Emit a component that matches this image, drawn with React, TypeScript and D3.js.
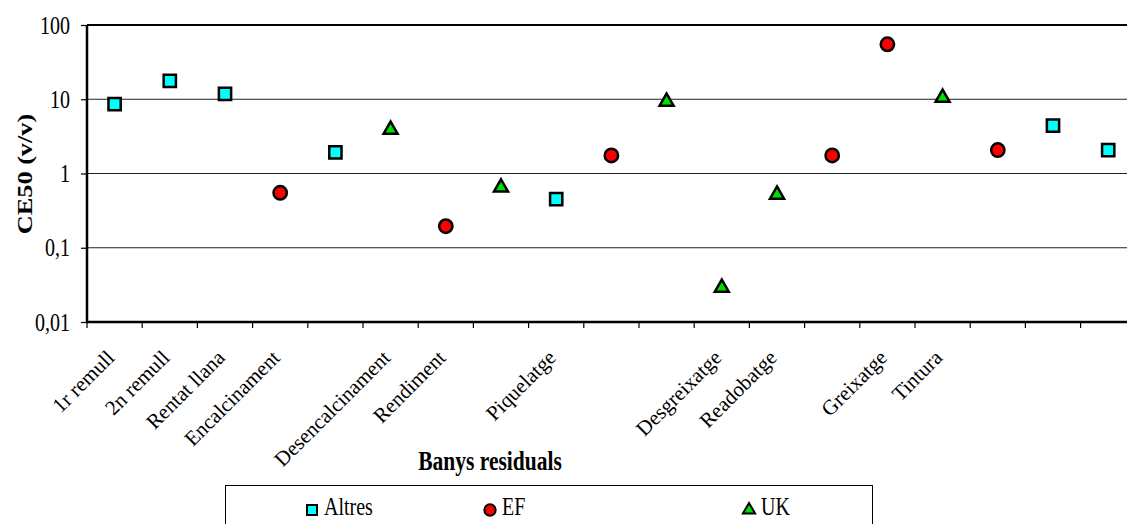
import React, { useEffect, useRef } from "react";
import * as d3 from "d3";

// 19 categories on the x axis, only some carry a label
const labels = [
  "1r remull", "2n remull", "Rentat llana", "Encalcinament", "",
  "Desencalcinament", "Rendiment", "", "Piquelatge", "", "",
  "Desgreixatge", "Readobatge", "", "Greixatge", "Tintura", "", "", "",
];

// series: index of category + CE50 value
const altres = [
  { i: 0, v: 8.6 }, { i: 1, v: 17.7 }, { i: 2, v: 11.8 }, { i: 4, v: 1.93 },
  { i: 8, v: 0.45 }, { i: 17, v: 4.4 }, { i: 18, v: 2.07 },
];
const ef = [
  { i: 3, v: 0.55 }, { i: 6, v: 0.195 }, { i: 9, v: 1.75 }, { i: 13, v: 1.75 },
  { i: 14, v: 55 }, { i: 16, v: 2.07 },
];
const uk = [
  { i: 5, v: 3.9 }, { i: 7, v: 0.65 }, { i: 10, v: 9.3 }, { i: 11, v: 0.029 },
  { i: 12, v: 0.52 }, { i: 15, v: 10.5 },
];
const yTicks = [0.01, 0.1, 1, 10, 100];

const App: React.FC = () => {
  const svgRef = useRef<SVGSVGElement | null>(null);

  useEffect(() => {
    const width = 1127;
    const height = 524;
    const left = 87;
    const top = 25;
    const bottom = 322;
    const step = 55.2;
    const font = "'Liberation Serif', 'Times New Roman', serif";
    const stretch = 1.25; // horizontal text in the original is drawn taller than wide

    const svg = d3.select(svgRef.current).attr("width", width).attr("height", height);
    svg.selectAll("*").remove();

    const x = d3
      .scaleBand<number>()
      .domain(labels.map((_, i) => i))
      .range([left, left + step * labels.length]);
    const y = d3.scaleLog().domain([0.01, 100]).range([bottom, top]);
    const right = left + step * labels.length;
    const cx = (i: number) => x(i)! + x.bandwidth() / 2;
    const fmt = (d: number) => String(d).replace(".", ",");

    // gridlines
    svg
      .append("g")
      .selectAll("line")
      .data([0.1, 1, 10])
      .join("line")
      .attr("x1", left)
      .attr("x2", right)
      .attr("y1", (d) => y(d))
      .attr("y2", (d) => y(d))
      .attr("stroke", "#222")
      .attr("stroke-width", 1);

    // top border
    svg
      .append("line")
      .attr("x1", left)
      .attr("x2", right)
      .attr("y1", top)
      .attr("y2", top)
      .attr("stroke", "#000")
      .attr("stroke-width", 2);

    // y axis
    const yAxis = svg
      .append("g")
      .attr("transform", `translate(${left},0)`)
      .call(d3.axisLeft(y).tickValues(yTicks).tickFormat(() => "").tickSize(6));
    yAxis.select(".domain").attr("stroke-width", 2.5).attr("d", `M0,${top}V${bottom}`);
    yAxis.selectAll(".tick line").attr("stroke-width", 1.2);
    svg
      .append("g")
      .selectAll("text")
      .data(yTicks)
      .join("text")
      .attr("transform", (d) => `translate(70,${y(d)}) scale(1,${stretch})`)
      .attr("text-anchor", "end")
      .attr("dy", "0.34em")
      .style("font-family", font)
      .style("font-size", "20px")
      .text((d) => fmt(d));

    // x axis (ticks at category boundaries)
    const xAxis = svg.append("g").attr("transform", `translate(0,${bottom})`);
    xAxis
      .selectAll("line")
      .data(d3.range(labels.length + 1))
      .join("line")
      .attr("x1", (d) => left + d * step)
      .attr("x2", (d) => left + d * step)
      .attr("y1", 0)
      .attr("y2", 6)
      .attr("stroke", "#000")
      .attr("stroke-width", 1.2);
    xAxis
      .append("line")
      .attr("x1", left - 1)
      .attr("x2", right)
      .attr("y1", 0)
      .attr("y2", 0)
      .attr("stroke", "#000")
      .attr("stroke-width", 2.5);
    xAxis
      .selectAll("text")
      .data(labels.map((l, i) => ({ l, i })).filter((d) => d.l))
      .join("text")
      .attr("transform", (d) => `translate(${cx(d.i) + 1},${37}) rotate(-45)`)
      .attr("text-anchor", "end")
      .style("font-family", font)
      .style("font-size", "21px")
      .text((d) => d.l);

    // axis titles
    svg
      .append("text")
      .attr("transform", `translate(490,470) scale(1,${stretch})`)
      .attr("text-anchor", "middle")
      .style("font-family", font)
      .style("font-size", "21.5px")
      .style("font-weight", "bold")
      .text("Banys residuals");
    svg
      .append("text")
      .attr("transform", `translate(32,174) scale(1,${stretch}) rotate(-90)`)
      .attr("text-anchor", "middle")
      .style("font-family", font)
      .style("font-size", "21px")
      .style("font-weight", "bold")
      .text("CE50 (v/v)");

    // markers
    const sq = d3.symbol().type(d3.symbolSquare).size(150);
    const ci = d3.symbol().type(d3.symbolCircle).size(140);
    const tr = d3.symbol().type(d3.symbolTriangle).size(85);

    const drawSeries = (data: { i: number; v: number }[], path: string, fill: string) => {
      svg
        .append("g")
        .selectAll("path")
        .data(data)
        .join("path")
        .attr("d", path)
        .attr("transform", (d) => `translate(${cx(d.i)},${y(d.v)})`)
        .attr("fill", fill)
        .attr("stroke", "#000")
        .attr("stroke-width", 2.5);
    };
    drawSeries(altres, sq()!, "#00ffff");
    drawSeries(ef, ci()!, "#ff0000");
    drawSeries(uk, tr()!, "#00e000");

    // legend
    const lg = svg.append("g");
    lg.append("rect")
      .attr("x", 225.5)
      .attr("y", 485.5)
      .attr("width", 647)
      .attr("height", 60)
      .attr("fill", "#fff")
      .attr("stroke", "#000")
      .attr("stroke-width", 1);
    const items = [
      { name: "Altres", path: d3.symbol().type(d3.symbolSquare).size(100)()!, fill: "#00ffff", x: 312 },
      { name: "EF", path: d3.symbol().type(d3.symbolCircle).size(100)()!, fill: "#ff0000", x: 490 },
      { name: "UK", path: d3.symbol().type(d3.symbolTriangle).size(65)()!, fill: "#00e000", x: 749 },
    ];
    items.forEach((it) => {
      lg.append("path")
        .attr("d", it.path)
        .attr("transform", `translate(${it.x},${510})`)
        .attr("fill", it.fill)
        .attr("stroke", "#000")
        .attr("stroke-width", 2);
      lg.append("text")
        .attr("transform", `translate(${it.x + 12},515) scale(1,${stretch})`)
        .style("font-family", font)
        .style("font-size", "20px")
        .text(it.name);
    });
  }, []);

  return (
    <svg
      ref={svgRef}
      style={{ position: "absolute", left: 0, top: 0, background: "#fff" }}
    ></svg>
  );
};

export default App;
